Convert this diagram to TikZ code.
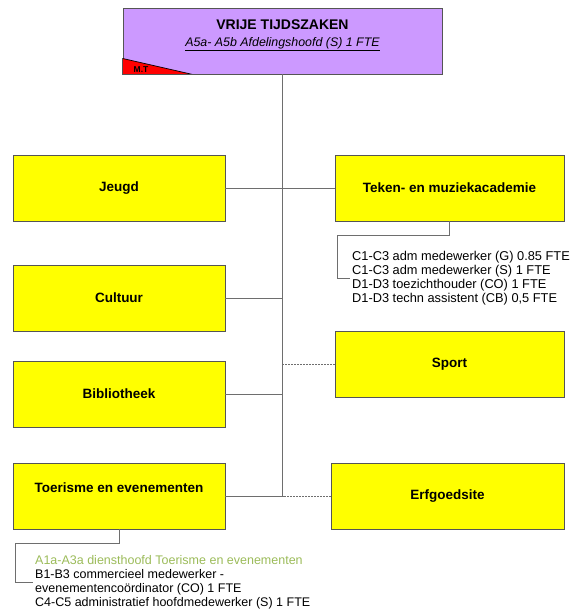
\documentclass[tikz,border=0pt]{standalone}
\usepackage{fontspec}
\setmainfont{Liberation Sans}
\definecolor{boxline}{RGB}{85,85,85}
\definecolor{linkgray}{RGB}{110,110,110}
\definecolor{unityellow}{RGB}{255,255,0}
\definecolor{headpurple}{RGB}{204,153,255}
\definecolor{mtred}{RGB}{255,0,0}
\definecolor{leadgreen}{RGB}{155,187,89}

\begin{document}
\begin{tikzpicture}[
    x=1pt, y=-1pt,
    unit/.style={draw=boxline, line width=0.9pt, fill=unityellow, inner sep=0pt, minimum height=66pt, font=\bfseries\fontsize{13.5}{16}\selectfont},
    leftunit/.style={unit, minimum width=212pt},
    rightunit/.style={unit, minimum width=229pt},
    headbox/.style={draw=boxline, line width=0.9pt, fill=headpurple, inner sep=0pt, minimum width=319pt, minimum height=66pt, font=\fontsize{12.4}{15}\selectfont},
    staff/.style={align=left, anchor=west, inner xsep=2pt, inner ysep=0pt, font=\fontsize{12.5}{14}\selectfont},
    link/.style={draw=linkgray, line width=1pt},
    loose/.style={link, dash pattern=on 2pt off 1pt},
  ]
  \useasboundingbox (0,0) rectangle (571,614);

  \node[headbox] (head) at (282.5,41) {\raisebox{6pt}[\height][\depth]{\begin{tabular}{@{}c@{}}
      {\fontsize{14}{17}\selectfont\bfseries VRIJE TIJDSZAKEN}\\[2.5pt]
      \textit{\underline{A5a- A5b Afdelingshoofd (S) 1 FTE}}
    \end{tabular}}};
  \fill[mtred] (head.south west) -- ([yshift=16pt]head.south west) -- ([xshift=70pt]head.south west) -- cycle;
  \draw[black, line width=0.7pt] ([yshift=16pt]head.south west) -- ([xshift=70pt]head.south west);
  \draw[boxline, line width=0.9pt] ([yshift=16pt]head.south west) |- ([xshift=70pt]head.south west);
  \node[inner sep=0pt, font=\bfseries\fontsize{8.5}{9}\selectfont] (mt) at (141,69.5) {M.T};

  \node[leftunit] (jeugd) at (119,188) {Jeugd};
  \node[leftunit] (cultuur) at (119,298) {Cultuur};
  \node[leftunit] (bibliotheek) at (119,394) {Bibliotheek};
  \node[leftunit] (toerisme) at (119,496) {\raisebox{8pt}[\height][\depth]{Toerisme en evenementen}};

  \node[rightunit] (academie) at (449.5,188) {Teken- en muziekacademie};
  \node[rightunit] (sport) at (449.5,364) {Sport};
  \node[unit, minimum width=233pt] (erfgoed) at (447.5,496) {Erfgoedsite};

  \node[staff, font=\fontsize{12.8}{14}\selectfont] (academiestaff) at (350,278) {C1-C3 adm medewerker (G) 0.85 FTE\\
    C1-C3 adm medewerker (S) 1 FTE\\
    D1-D3 toezichthouder (CO) 1 FTE\\
    D1-D3 techn assistent (CB) 0,5 FTE};
  \node[staff] (toerismestaff) at (33,582) {\textcolor{leadgreen}{A1a-A3a diensthoofd Toerisme en evenementen}\\
    B1-B3 commercieel medewerker -\\
    evenementencoördinator (CO) 1 FTE\\
    C4-C5 administratief hoofdmedewerker (S) 1 FTE};

  \draw[link] (head.south) -- (head.south |- toerisme);
  \draw[link] (jeugd) -- (academie);
  \draw[link] (cultuur) -- (cultuur -| head.south);
  \draw[link] (bibliotheek) -- (bibliotheek -| head.south);
  \draw[link] (toerisme) -- (toerisme -| head.south);
  \draw[loose] (sport) -- (sport -| head.south);
  \draw[loose] (erfgoed) -- (erfgoed -| head.south);

  \draw[link] (academie.south) -- ++(0,14) -| ([xshift=-13pt]academiestaff.west) -- (academiestaff.west);
  \draw[link] (toerisme.south) -- ++(0,14) -| ([xshift=-18pt]toerismestaff.west) -- (toerismestaff.west);
\end{tikzpicture}
\end{document}
